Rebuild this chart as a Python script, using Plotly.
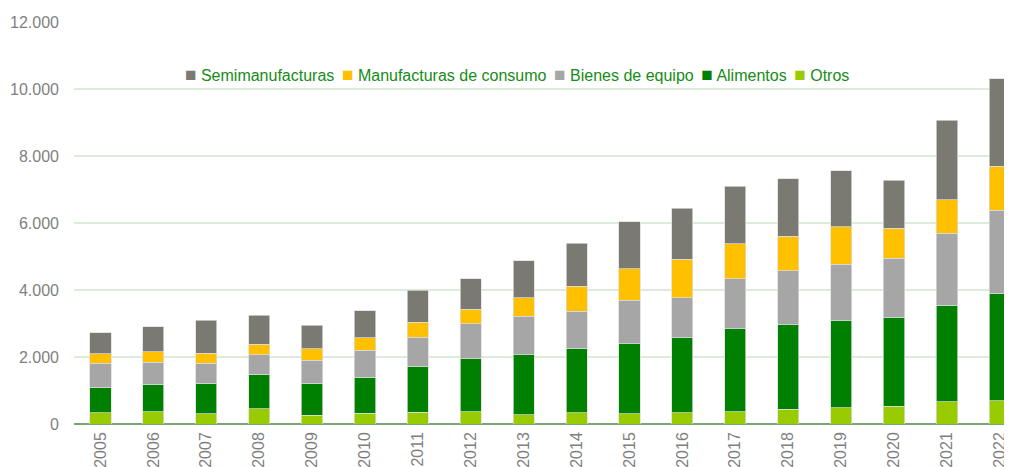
import plotly.graph_objects as go

years = [str(y) for y in range(2005, 2023)]

otros = [340, 360, 310, 460, 260, 320, 350, 360, 280, 340, 300, 330, 370, 440, 490, 530, 660, 690]
alimentos = [750, 830, 910, 1030, 960, 1080, 1380, 1590, 1790, 1920, 2090, 2250, 2470, 2530, 2590, 2650, 2890, 3210]
bienes_equipo = [730, 660, 590, 570, 690, 800, 860, 1040, 1150, 1100, 1300, 1190, 1500, 1610, 1690, 1770, 2140, 2480]
manuf_consumo = [280, 300, 300, 320, 330, 380, 450, 430, 550, 750, 950, 1150, 1040, 1030, 1120, 900, 1000, 1310]
semimanuf = [630, 760, 980, 870, 710, 800, 950, 920, 1100, 1290, 1390, 1520, 1710, 1710, 1670, 1420, 2380, 2610]

y_ticks = [0, 2000, 4000, 6000, 8000, 10000, 12000]
y_tick_text = ["0", "2.000", "4.000", "6.000", "8.000", "10.000", "12.000"]

# bottom-to-top stacking order
series = [
    ("Otros", otros, "#99CC00"),
    ("Alimentos", alimentos, "#008000"),
    ("Bienes de equipo", bienes_equipo, "#A6A6A6"),
    ("Manufacturas de consumo", manuf_consumo, "#FFC000"),
    ("Semimanufacturas", semimanuf, "#7A7A72"),
]

legend_color = "#168C16"
font_family = "Liberation Sans, Arial, sans-serif"

fig = go.Figure()
for name, vals, color in series:
    fig.add_trace(go.Bar(
        x=years, y=vals, name=name,
        marker=dict(color=color, line=dict(color="rgba(220,220,220,0.9)", width=0.8)),
        showlegend=False,
    ))

# compact legend line (legend order is reversed stacking order)
legend_text = " \u2009".join(
    f'<span style="color:{color};font-size:19px">■</span> {name}'
    for name, _, color in reversed(series)
)
fig.add_annotation(
    text=legend_text,
    xref="paper", yref="paper",
    x=0.4723, y=0.8706,
    xanchor="center", yanchor="middle",
    showarrow=False,
    font=dict(family=font_family, size=16, color=legend_color),
)

fig.update_layout(
    barmode="stack",
    bargap=0.6,
    width=1004, height=459,
    margin=dict(l=66, r=0, t=14, b=43, autoexpand=False),
    paper_bgcolor="white",
    plot_bgcolor="white",
    font=dict(family=font_family, size=16, color="#7F7F7F"),
    showlegend=False,
    xaxis=dict(
        type="category",
        range=[-0.5, 17.23],
        tickangle=-90,
        showgrid=False,
        showline=False,
        ticks="",
        ticklabelstandoff=4,
        tickfont=dict(size=16, color="#7F7F7F"),
    ),
    yaxis=dict(
        range=[0, 12000],
        tickvals=y_ticks,
        ticktext=y_tick_text,
        showgrid=True,
        gridcolor="#DDEBDA",
        gridwidth=1.5,
        zeroline=True,
        zerolinecolor="#76A876",
        zerolinewidth=2,
        ticks="",
        ticklabelstandoff=14,
        tickfont=dict(size=16, color="#7F7F7F"),
    ),
)

fig.write_html("out.html")
